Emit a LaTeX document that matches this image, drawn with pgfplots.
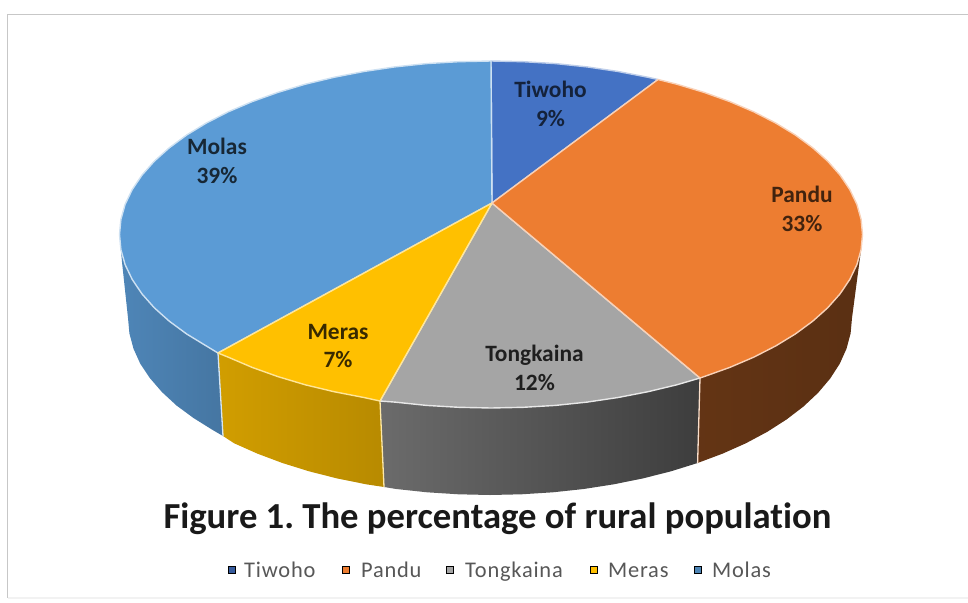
\documentclass[border=0pt]{standalone}
\usepackage{pgfplots}
\pgfplotsset{compat=1.18}
\usepackage{fontspec}
\setmainfont[Ligatures={NoCommon,TeX}]{Carlito}
\frenchspacing
\definecolor{tiwoho}{HTML}{4472C4}
\definecolor{pandu}{HTML}{ED7D31}
\definecolor{tongkaina}{HTML}{A5A5A5}
\definecolor{meras}{HTML}{FFC000}
\definecolor{molas}{HTML}{5B9BD5}
\newcommand{\slicelabel}[4]{\node[text=#4,font=\fontsize{23.5}{29}\selectfont\bfseries,align=center] at (axis cs:#1,#2) {#3};}
\begin{document}
\begin{tikzpicture}
\useasboundingbox (0,0) rectangle (968bp,603bp);
\begin{axis}[
  at={(0,0)},anchor=south west,
  width=968bp,height=603bp,scale only axis,
  xmin=0,xmax=968,ymin=0,ymax=603,y dir=reverse,
  hide axis,clip=true,
]
% page frame
\addplot[draw=black!22,line width=1.6bp] coordinates {(968,14.5)(7.5,14.5)(7.5,598)};
\addplot[draw=black!5,line width=1.2bp] coordinates {(7.5,598)(968,598)};

% side walls
\addplot[draw=none,left color=molas!86!black,right color=molas!76!black] coordinates {
 (120.9,249.6)(125.1,264.6)(132.2,279.4)(141.9,293.8)(154.3,307.8)(169.3,321.2)(186.7,334)(206.4,346)(218,353)
 (223,436)(212.7,430)(193.5,418)(176.5,405.5)(161.9,392)(149.8,378)(140.3,363.8)(133.5,348.7)(129.4,333.4)(128,318)(122,262)
} -- cycle;
\addplot[draw=none,left color=meras!82!black,right color=meras!72!black] coordinates {
 (218,353)(228.3,357.2)(252.2,367.4)(277.9,376.6)(305.3,384.8)(334,391.7)(363.9,397.5)(380,401)
 (384,487)(366.2,484.3)(337,478.4)(309,471.3)(282.4,463)(257.3,453.6)(234,443.2)(223,436)
} -- cycle;
\addplot[draw=none,left color=black!58,right color=black!76] coordinates {
 (380,401)(394.9,402.1)(426.5,405.4)(458.6,407.3)(491,408)(523.4,407.3)(555.5,405.4)(587.1,402.1)(618.1,397.5)(648,391.7)(676.8,384.8)(700,378)
 (697.6,463)(671,471.3)(643,478.4)(613.8,484.3)(583.7,489)(552.9,492.3)(521.5,494.3)(490,495)(458.5,494.3)(427.1,492.3)(396.3,489)(384,487)
} -- cycle;
\addplot[draw=none,left color=pandu!42!black,right color=pandu!38!black] coordinates {
 (700,378)(704.1,376.6)(729.8,367.4)(753.7,357.2)(775.6,346)(795.3,334)(812.7,321.2)(827.7,307.8)(840.1,293.8)(849.8,279.4)(856.9,264.6)(861.1,249.6)
 (859,265)(852,318)(850.6,333.4)(846.5,348.7)(839.7,363.8)(830.2,378.5)(818.1,392.8)(803.5,406.5)(786.5,419.5)(767.3,431.8)(746,443.2)(722.7,453.6)(697.6,463)
} -- cycle;

% dividers between the walls
\addplot[draw=molas!25!white,line width=1.3bp] coordinates {(218,353)(223,436)};
\addplot[draw=meras!35!white,line width=1.3bp] coordinates {(380,401)(384,487)};
\addplot[draw=pandu!25!white,line width=1.3bp] coordinates {(700,378)(697.6,463)};

% top faces
\addplot[fill=tiwoho,draw=tiwoho!35!white,line width=1.4bp,line join=round] coordinates {
 (492,203)(491,61)(523.4,61.7)(555.5,63.6)(587.1,66.9)(618.1,71.5)(648,77.3)(658,79.5)
} -- cycle;
\addplot[fill=molas,draw=molas!30!white,line width=1.4bp,line join=round] coordinates {
 (492,203)(218,353)(206.4,346)(186.7,334)(169.3,321.2)(154.3,307.8)(141.9,293.8)(132.2,279.4)(125.1,264.6)(120.9,249.6)(119.5,234.5)
 (120.9,219.4)(125.1,204.4)(132.2,189.6)(141.9,175.2)(154.3,161.2)(169.3,147.8)(186.7,135)(206.4,123)(228.3,111.8)(252.2,101.6)(277.9,92.4)
 (305.3,84.2)(334,77.3)(363.9,71.5)(394.9,66.9)(426.5,63.6)(458.6,61.7)(491,61)
} -- cycle;
\addplot[fill=tongkaina,draw=tongkaina!25!white,line width=1.4bp,line join=round] coordinates {
 (492,203)(700,378)(676.8,384.8)(648,391.7)(618.1,397.5)(587.1,402.1)(555.5,405.4)(523.4,407.3)(491,408)(458.6,407.3)(426.5,405.4)(394.9,402.1)(380,401)
} -- cycle;
\addplot[fill=meras,draw=meras!40!white,line width=1.4bp,line join=round] coordinates {
 (492,203)(380,401)(363.9,397.5)(334,391.7)(305.3,384.8)(277.9,376.6)(252.2,367.4)(228.3,357.2)(218,353)
} -- cycle;
\addplot[fill=pandu,draw=pandu!35!white,line width=1.4bp,line join=round] coordinates {
 (492,203)(658,79.5)(676.8,84.2)(704.1,92.4)(729.8,101.6)(753.7,111.8)(775.6,123)(795.3,135)(812.7,147.8)(827.7,161.2)(840.1,175.2)(849.8,189.6)
 (856.9,204.4)(861.1,219.4)(862.5,234.5)(861.1,249.6)(856.9,264.6)(849.8,279.4)(840.1,293.8)(827.7,307.8)(812.7,321.2)(795.3,334)(775.6,346)
 (753.7,357.2)(729.8,367.4)(704.1,376.6)(700,378)
} -- cycle;

% slice labels
\slicelabel{550.5}{104}{Tiwoho\\9\%}{tiwoho!30!black}
\slicelabel{802}{209}{Pandu\\33\%}{pandu!28!black}
\slicelabel{534.5}{368}{Tongkaina\\12\%}{black!88}
\slicelabel{338}{346}{Meras\\7\%}{meras!22!black}
\slicelabel{217}{161}{Molas\\39\%}{molas!25!black}

% heading
\node[font=\fontsize{36.8}{37}\selectfont\bfseries,text=black!90] at (axis cs:497.5,519) {Figure 1. The percentage of rural population};

% key
\addplot[only marks,mark=square*,mark size=3.5bp,draw=none,fill=tiwoho!80!black] coordinates {(232,570)};
\addplot[only marks,mark=square*,mark size=3.5bp,draw=none,fill=pandu] coordinates {(346,570)};
\addplot[only marks,mark=square*,mark size=3.5bp,draw=none,fill=tongkaina] coordinates {(450,570)};
\addplot[only marks,mark=square*,mark size=3.5bp,draw=none,fill=meras] coordinates {(594,570)};
\addplot[only marks,mark=square*,mark size=3.5bp,draw=none,fill=molas!85!black] coordinates {(698,570)};
\begin{scope}[every node/.style={anchor=base west,inner sep=0pt,text=black!66,font=\fontsize{22.5}{22.5}\selectfont\addfontfeature{LetterSpace=3.5}}]
\node at (axis cs:244,577) {Tiwoho};
\node at (axis cs:361,577) {Pandu};
\node at (axis cs:465,577) {Tongkaina};
\node at (axis cs:608,577) {Meras};
\node at (axis cs:712,577) {Molas};
\end{scope}
\end{axis}
\end{tikzpicture}
\end{document}
